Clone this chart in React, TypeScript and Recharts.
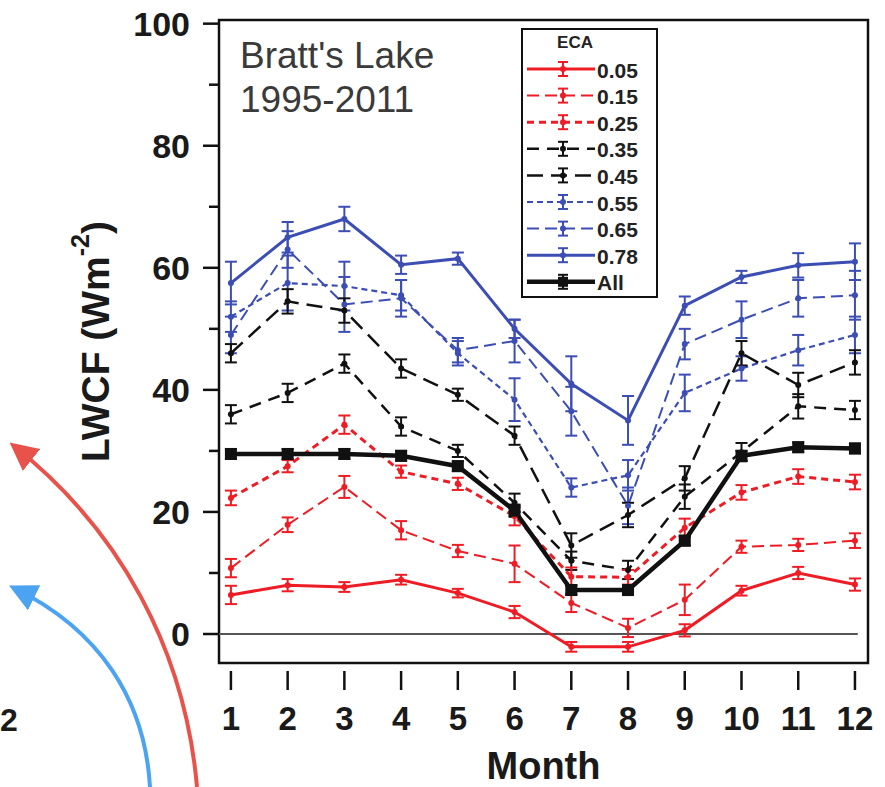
import React from "react";
import {
  LineChart,
  Line,
  XAxis,
  YAxis,
  ErrorBar,
  ReferenceLine,
  ReferenceArea,
} from "recharts";

const FONT = '"Liberation Sans", Arial, Helvetica, sans-serif';
const RED = "#ee1c25";
const BLUE = "#3c4db4";
const BLACK = "#111111";

const months = [1, 2, 3, 4, 5, 6, 7, 8, 9, 10, 11, 12];
const yTicks = [0, 10, 20, 30, 40, 50, 60, 70, 80, 90, 100];

// monthly mean LWCF per ECA bin, W m-2
const eca05 = [6.4, 8, 7.7, 8.9, 6.7, 3.6, -2.1, -2.1, 0.6, 7.1, 10, 8.1];
const eca15 = [10.8, 17.9, 24.1, 17, 13.6, 11.5, 5.1, 1, 5.6, 14.3, 14.6, 15.3];
const eca25 = [22.3, 27.5, 34.3, 26.6, 24.6, 19.3, 9.4, 9.3, 17.4, 23.2, 25.8, 24.9];
const eca35 = [36, 39.5, 44.3, 34, 30, 21.5, 12, 10.5, 22.5, 29.8, 37.3, 36.7];
const eca45 = [46, 54.5, 53, 43.5, 39.2, 32.5, 14.5, 19.5, 25.5, 46, 40.8, 44.5];
const eca55 = [52, 57.5, 57, 55.5, 46, 38.4, 24, 26, 39.5, 43.5, 46.5, 49];
const eca65 = [49, 63, 54, 55, 46.5, 48, 36.5, 21, 47.5, 51.5, 55, 55.5];
const eca78 = [57.5, 65, 68, 60.5, 61.5, 50, 41, 35, 53.8, 58.5, 60.4, 61];
const ecaAll = [29.5, 29.5, 29.5, 29.2, 27.5, 20.2, 7.2, 7.2, 15.3, 29.2, 30.6, 30.4];

// standard errors
const err05 = [1.5, 1, 0.8, 0.8, 0.7, 1, 0.8, 0.8, 1, 0.8, 1, 1];
const err15 = [1.5, 1.2, 1.8, 1.5, 1, 3, 1.5, 1.5, 2.5, 1, 1, 1.2];
const err25 = [1.2, 1, 1.5, 1, 1, 1.5, 1.5, 1.2, 1.5, 1.2, 1.2, 1.2];
const err35 = [1.5, 1.5, 1.5, 1.5, 1, 1.5, 1.5, 1.5, 2, 1.5, 2, 1.5];
const err45 = [1.5, 2, 2, 1.5, 1, 1.5, 2, 2, 2, 2, 2, 2];
const err55 = [2.5, 4.5, 4, 2.5, 2, 3.5, 1.5, 2.5, 3, 2, 2.5, 3];
const err65 = [3, 3, 4.5, 3, 2, 3.5, 4, 3, 2.5, 3, 3, 4];
const err78 = [3.5, 2.5, 2, 1.5, 1, 1.5, 4.5, 4, 1.5, 1, 2, 3];
const errAll = [0.8, 0.8, 0.8, 0.8, 0.8, 1, 0.8, 0.8, 0.8, 0.8, 0.8, 0.8];

type Series = {
  key: string;
  name: string;
  color: string;
  width: number;
  dash?: string;
  values: number[];
  errors: number[];
};

const series: Series[] = [
  { key: "eca05", name: "0.05", color: RED, width: 3, values: eca05, errors: err05 },
  { key: "eca15", name: "0.15", color: RED, width: 2, dash: "12 6", values: eca15, errors: err15 },
  { key: "eca25", name: "0.25", color: RED, width: 3, dash: "7 5", values: eca25, errors: err25 },
  { key: "eca35", name: "0.35", color: BLACK, width: 2.5, dash: "12 8", values: eca35, errors: err35 },
  { key: "eca45", name: "0.45", color: BLACK, width: 2.5, dash: "16 8", values: eca45, errors: err45 },
  { key: "eca55", name: "0.55", color: BLUE, width: 2.2, dash: "6 4", values: eca55, errors: err55 },
  { key: "eca65", name: "0.65", color: BLUE, width: 2, dash: "12 6", values: eca65, errors: err65 },
  { key: "eca78", name: "0.78", color: BLUE, width: 3, values: eca78, errors: err78 },
  { key: "ecaAll", name: "All", color: BLACK, width: 4.5, values: ecaAll, errors: errAll },
];

const data = months.map((m, i) => {
  const row: Record<string, number> = { month: m };
  series.forEach((s) => {
    row[s.key] = s.values[i];
    row[s.key + "Err"] = s.errors[i];
  });
  return row;
});

// blues underneath, "All" on top
const drawOrder = [...series.slice(0, 8)].reverse().concat(series.slice(8));

const YTick = (props: any) => {
  const { x, y, payload } = props;
  const major = payload.value % 20 === 0;
  return (
    <g>
      <line x1={x - (major ? 16 : 10)} x2={x} y1={y} y2={y} stroke={BLACK} strokeWidth={2.5} />
      {major && (
        <text
          x={x - 29}
          y={y}
          textAnchor="end"
          dominantBaseline="central"
          fontFamily={FONT}
          fontWeight="bold"
          fontSize={34}
          fill="#1a1a1a"
        >
          {payload.value}
        </text>
      )}
    </g>
  );
};

const XTick = (props: any) => {
  const { x, y, payload } = props;
  return (
    <g>
      <line x1={x} x2={x} y1={y + 8} y2={y + 27} stroke={BLACK} strokeWidth={2.5} />
      <text
        x={x}
        y={y + 55}
        textAnchor="middle"
        dominantBaseline="central"
        fontFamily={FONT}
        fontWeight="bold"
        fontSize={33}
        fill="#1a1a1a"
      >
        {payload.value}
      </text>
    </g>
  );
};

const makeDot = (s: Series) => (props: any) => {
  const { cx, cy, index } = props;
  if (cx == null || cy == null) return <g key={index} />;
  if (s.key === "ecaAll") {
    return <rect key={index} x={cx - 6} y={cy - 6} width={12} height={12} fill={BLACK} />;
  }
  return <circle key={index} cx={cx} cy={cy} r={3} fill={s.color} />;
};

function EcaLegend() {
  return (
    <div
      style={{
        position: "absolute",
        left: 521,
        top: 28,
        width: 137,
        height: 270,
        border: "2.5px solid #111",
        boxSizing: "border-box",
        background: "#fff",
      }}
    >
      <svg width={132} height={265} style={{ display: "block", overflow: "visible" }}>
        <text x={52} y={12} textAnchor="middle" dominantBaseline="central" fontFamily={FONT} fontWeight="bold" fontSize={17} fill="#222">
          ECA
        </text>
        {series.map((s, i) => {
          const y = 39 + i * 26.6;
          return (
            <g key={s.key}>
              <line x1={4} x2={72} y1={y} y2={y} stroke={s.color} strokeWidth={s.width} strokeDasharray={s.dash} />
              <line x1={40} x2={40} y1={y - 7} y2={y + 7} stroke={s.color} strokeWidth={2} />
              <line x1={35} x2={45} y1={y - 7} y2={y - 7} stroke={s.color} strokeWidth={2} />
              <line x1={35} x2={45} y1={y + 7} y2={y + 7} stroke={s.color} strokeWidth={2} />
              {s.key === "ecaAll" ? (
                <rect x={35} y={y - 5} width={10} height={10} fill={BLACK} />
              ) : (
                <circle cx={40} cy={y} r={3} fill={s.color} />
              )}
              <text x={74} y={y + 1} dominantBaseline="central" fontFamily={FONT} fontWeight="bold" fontSize={21} fill="#222">
                {s.name}
              </text>
            </g>
          );
        })}
      </svg>
    </div>
  );
}

export default function App() {
  return (
    <div
      style={{
        position: "absolute",
        left: 0,
        top: 0,
        width: 885,
        height: 787,
        background: "#fff",
        overflow: "hidden",
      }}
    >
      <LineChart width={885} height={787} data={data} margin={{ top: 20, right: 17, bottom: 0, left: 0 }}>
        <XAxis
          dataKey="month"
          type="number"
          domain={[0.79, 12.23]}
          allowDataOverflow
          ticks={months}
          height={124}
          tickSize={0}
          tickMargin={0}
          tickLine={false}
          axisLine={false}
          tick={XTick}
          label={(p: any) => {
            const vb = p.viewBox;
            return (
              <text
                x={vb.x + vb.width / 2}
                y={vb.y + 103}
                textAnchor="middle"
                dominantBaseline="central"
                fontFamily={FONT}
                fontWeight="bold"
                fontSize={38}
                fill="#1a1a1a"
              >
                Month
              </text>
            );
          }}
        />
        <YAxis
          type="number"
          domain={[-4.75, 100.6]}
          allowDataOverflow
          ticks={yTicks}
          width={219}
          tickSize={0}
          tickMargin={0}
          tickLine={false}
          axisLine={false}
          tick={YTick}
          label={(p: any) => {
            const vb = p.viewBox;
            const cx = 95;
            const cy = vb.y + vb.height / 2;
            return (
              <text
                transform={`translate(${cx},${cy}) rotate(-90)`}
                textAnchor="middle"
                dominantBaseline="central"
                fontFamily={FONT}
                fontWeight="bold"
                fontSize={39}
                fill="#1a1a1a"
              >
                LWCF (Wm
                <tspan fontSize={25} dy={-15}>-2</tspan>
                <tspan dy={15}>)</tspan>
              </text>
            );
          }}
        />
        <ReferenceArea
          x1={0.79}
          x2={12.23}
          y1={-4.75}
          y2={100.6}
          fill="none"
          fillOpacity={0}
          stroke={BLACK}
          strokeWidth={2.5}
          ifOverflow="visible"
        />
        <ReferenceLine
          segment={[
            { x: 0.79, y: 0 },
            { x: 12.05, y: 0 },
          ]}
          stroke="#555"
          strokeWidth={2.2}
        />
        {drawOrder.map((s) => (
          <Line
            key={s.key}
            dataKey={s.key}
            name={s.name}
            type="linear"
            stroke={s.color}
            strokeWidth={s.width}
            strokeDasharray={s.dash}
            dot={makeDot(s)}
            activeDot={false}
            isAnimationActive={false}
          >
            <ErrorBar dataKey={s.key + "Err"} width={6} strokeWidth={2} stroke={s.color} direction="y" />
          </Line>
        ))}
      </LineChart>

      <EcaLegend />

      <svg
        width={885}
        height={787}
        style={{ position: "absolute", left: 0, top: 0, pointerEvents: "none" }}
      >
        <defs>
          <marker id="headRed" viewBox="0 0 10 10" refX={8} refY={5} markerWidth={7} markerHeight={7} orient="auto">
            <path d="M0,0 L10,5 L0,10 z" fill="#e8524a" />
          </marker>
          <marker id="headBlue" viewBox="0 0 10 10" refX={8} refY={5} markerWidth={7} markerHeight={7} orient="auto">
            <path d="M0,0 L10,5 L0,10 z" fill="#4ba3f2" />
          </marker>
        </defs>
        <text x={240} y={68} fontFamily={FONT} fontSize={37} fill="#3a3a3a">
          Bratt's Lake
        </text>
        <text x={240} y={112} fontFamily={FONT} fontSize={37} fill="#3a3a3a">
          1995-2011
        </text>
        <path d="M197 787 C185 650 120 530 14 446" stroke="#e8524a" strokeWidth={4} fill="none" markerEnd="url(#headRed)" />
        <path d="M150 787 C145 700 100 630 14 588" stroke="#4ba3f2" strokeWidth={4} fill="none" markerEnd="url(#headBlue)" />
        <text x={0} y={720} dominantBaseline="central" fontFamily={FONT} fontWeight="bold" fontSize={32} fill="#1a1a1a">
          2
        </text>
      </svg>
    </div>
  );
}
